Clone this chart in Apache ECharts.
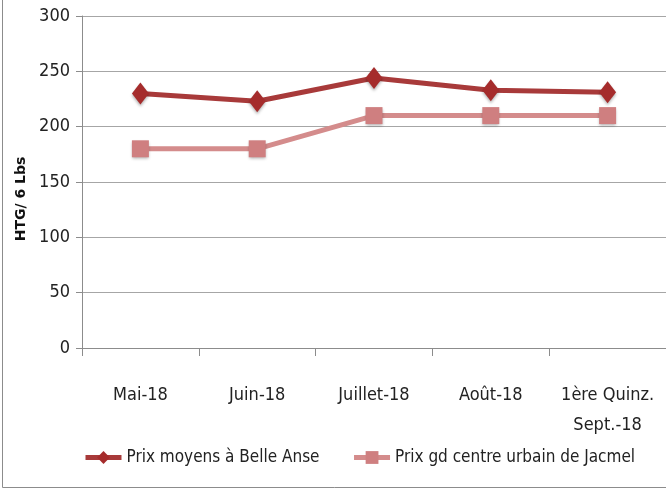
<!DOCTYPE html>
<html>
<head>
    <meta charset="utf-8">
    <title></title>
    <style>
        body{ margin: 0; }
        #main{ width: 666px; height: 490px; }
    </style>
    <script src="https://cdn.jsdelivr.net/npm/echarts@6/dist/echarts.min.js"></script>
</head>
<body>
<div id="main"></div>
<script>
    // categories and values
    var mois = ['Mai-18', 'Juin-18', 'Juillet-18', 'Août-18', '1ère Quinz.\nSept.-18'];
    var belleAnse = [230, 223, 244, 233, 231];
    var jacmel = [180, 180, 210, 210, 210];
    var yTicks = [0, 50, 100, 150, 200, 250, 300];

    var police = '"Liberation Sans Narrow", "DejaVu Sans Condensed", sans-serif';

    var option = {
        animation: false,
        grid: { left: 82, right: -1, top: 16, bottom: 142 },
        graphic: [{
            type: 'rect',
            shape: { x: 2.5, y: -2, width: 700, height: 489.5 },
            style: { fill: 'none', stroke: '#8c8c8c', lineWidth: 1 }
        }],
        legend: {
            bottom: 19,
            left: 78,
            itemWidth: 36,
            itemHeight: 16,
            itemGap: 32,
            lineStyle: { width: 5 },
            textStyle: { fontFamily: police, fontSize: 17, color: '#222' },
            data: ['Prix moyens à Belle Anse', 'Prix gd centre urbain de Jacmel']
        },
        xAxis: {
            type: 'category',
            data: mois,
            boundaryGap: true,
            axisLine: { lineStyle: { color: '#8c8c8c' } },
            axisTick: { show: true, length: 8, lineStyle: { color: '#8c8c8c' } },
            axisLabel: { margin: 32, fontFamily: police, fontSize: 18, color: '#222', lineHeight: 30, interval: 0 }
        },
        yAxis: {
            type: 'value',
            min: yTicks[0],
            max: yTicks[yTicks.length - 1],
            interval: 50,
            name: 'HTG/ 6 Lbs',
            nameLocation: 'middle',
            nameGap: 54,
            nameTextStyle: { fontFamily: 'DejaVu Sans', fontWeight: 'bold', fontSize: 14, color: '#111', padding: [0, 0, 0, -34] },
            axisLine: { show: true, lineStyle: { color: '#8c8c8c' } },
            axisTick: { show: true, length: 6, lineStyle: { color: '#8c8c8c' } },
            axisLabel: { margin: 12, fontFamily: police, fontSize: 18, color: '#222' },
            splitLine: { lineStyle: { color: '#a6a6a6' } }
        },
        series: [
            {
                name: 'Prix moyens à Belle Anse',
                type: 'line',
                data: belleAnse,
                symbol: 'diamond',
                symbolSize: [17, 22],
                lineStyle: { color: '#a83a3a', width: 5 },
                itemStyle: { color: '#a52c2c', shadowColor: 'rgba(0,0,0,0.3)', shadowBlur: 3, shadowOffsetY: 2 },
                z: 3
            },
            {
                name: 'Prix gd centre urbain de Jacmel',
                type: 'line',
                data: jacmel,
                symbol: 'rect',
                symbolSize: 17,
                lineStyle: { color: '#d48c8c', width: 5 },
                itemStyle: { color: '#cf7f80', shadowColor: 'rgba(0,0,0,0.3)', shadowBlur: 3, shadowOffsetY: 2 },
                z: 2
            }
        ]
    };

    var myChart = echarts.init(document.getElementById('main'));
    myChart.setOption(option);
</script>
</body>
</html>
